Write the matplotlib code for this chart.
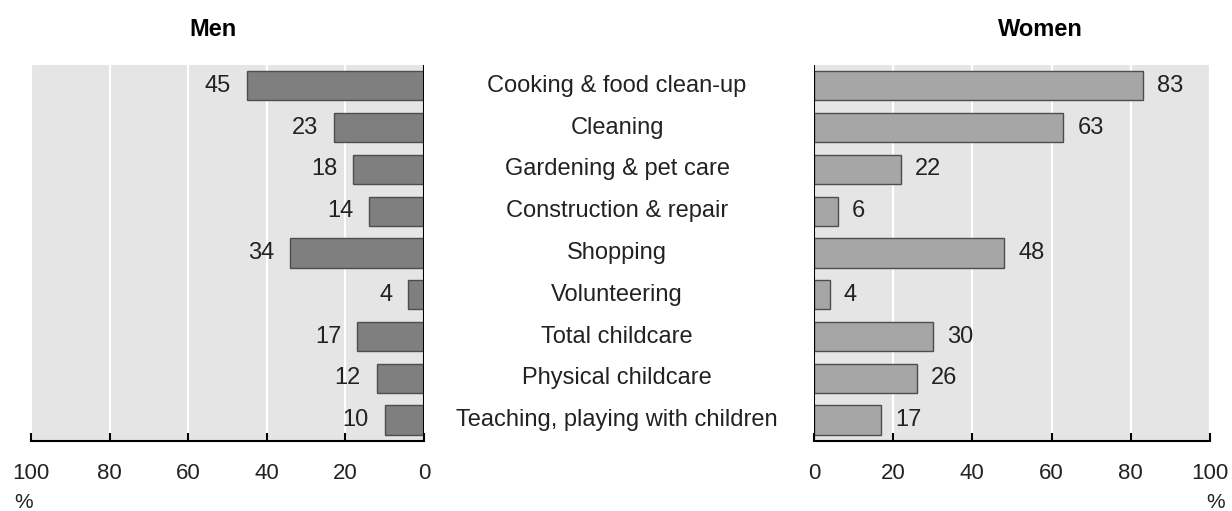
import matplotlib.pyplot as plt
import numpy as np

plt.rcParams['font.family'] = ['Liberation Sans', 'DejaVu Sans']

categories = [
    "Cooking & food clean-up",
    "Cleaning",
    "Gardening & pet care",
    "Construction & repair",
    "Shopping",
    "Volunteering",
    "Total childcare",
    "Physical childcare",
    "Teaching, playing with children",
]
men = [45, 23, 18, 14, 34, 4, 17, 12, 10]
women = [83, 63, 22, 6, 48, 4, 30, 26, 17]
ticks = [0, 20, 40, 60, 80, 100]

FS = 17
TXT = "#222222"

fig = plt.figure(figsize=(12.32, 5.11), dpi=100)
ax_m = fig.add_axes([0.0252, 0.137, 0.3190, 0.736])
ax_w = fig.add_axes([0.6607, 0.137, 0.3214, 0.736])

y = np.arange(len(categories))

for ax, vals, color, side in [(ax_m, men, "#7f7f7f", "left"), (ax_w, women, "#a6a6a6", "right")]:
    ax.set_facecolor("#e5e5e5")
    ax.barh(y, vals, height=0.7, color=color, edgecolor="#4d4d4d", linewidth=1, zorder=3)
    ax.set_xlim(0, 100)
    ax.set_ylim(len(categories) - 0.5, -0.5)
    ax.set_xticks(ticks)
    ax.xaxis.grid(True, color="white", linewidth=1.5, zorder=1)
    ax.set_axisbelow(True)
    ax.set_yticks([])
    for s in ["top", "left", "right"]:
        ax.spines[s].set_visible(False)
    ax.spines["bottom"].set_linewidth(1.5)
    ax.tick_params(axis="x", direction="in", length=6, width=1.5, labelsize=FS - 1,
                   pad=16, colors="black", labelcolor=TXT)
    for yi, v in zip(y, vals):
        if side == "left":
            ax.annotate(str(v), xy=(v, yi), xytext=(-16, 0), textcoords="offset pixels",
                        ha="right", va="center", fontsize=FS, color=TXT)
        else:
            ax.annotate(str(v), xy=(v, yi), xytext=(14, 0), textcoords="offset pixels",
                        ha="left", va="center", fontsize=FS, color=TXT)

ax_m.invert_xaxis()
ax_m.axvline(0, color="black", linewidth=1.5, zorder=4)
ax_w.axvline(0, color="black", linewidth=1.5, zorder=4)

for yi, cat in zip(y, categories):
    ax_m.annotate(cat, xy=(1, yi), xycoords=("axes fraction", "data"),
                  xytext=(617 - 424, 0), textcoords="offset pixels",
                  ha="center", va="center", fontsize=FS, color=TXT)

fig.text(213 / 1232, 1 - 30 / 511, "Men", ha="center", va="center", fontsize=FS, fontweight="bold")
fig.text(1040 / 1232, 1 - 30 / 511, "Women", ha="center", va="center", fontsize=FS, fontweight="bold")
fig.text(24 / 1232, 1 - 502 / 511, "%", ha="center", va="center", fontsize=FS - 2, color=TXT)
fig.text(1216 / 1232, 1 - 502 / 511, "%", ha="center", va="center", fontsize=FS - 2, color=TXT)

fig.savefig("out.png", dpi=100)
